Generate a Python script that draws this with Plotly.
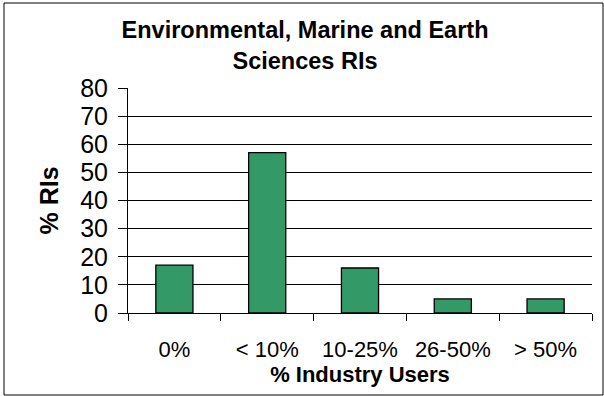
import plotly.graph_objects as go

# data
categories = ["0%", "< 10%", "10-25%", "26-50%", "> 50%"]
pct_ris = [17, 57, 16, 5, 5]
y_ticks = [0, 10, 20, 30, 40, 50, 60, 70, 80]

W, H = 604, 396
L, R, T, B = 128, 12, 88, 83   # plot area margins in px
pw, ph = W - L - R, H - T - B

font = "Liberation Sans, Arial, sans-serif"

fig = go.Figure()
fig.add_trace(go.Bar(
    x=categories, y=pct_ris,
    marker=dict(color="#339966", line=dict(color="black", width=1.3)),
    hoverinfo="x+y",
))

fig.update_layout(
    width=W, height=H,
    margin=dict(l=L, r=R, t=T, b=B, autoexpand=False),
    paper_bgcolor="white", plot_bgcolor="white",
    font=dict(family=font, color="black"),
    bargap=0.6, showlegend=False,
    title=dict(
        text="<b>Environmental, Marine and Earth<br>Sciences RIs</b>",
        font=dict(size=23.5), x=0.505, xanchor="center",
        y=1 - 38 / H, yanchor="middle", yref="container",
    ),
)

fig.update_yaxes(
    range=[0, 80], tickvals=y_ticks, tickfont=dict(size=25),
    showgrid=True, gridcolor="black", gridwidth=1,
    showline=True, linecolor="black", linewidth=1,
    ticks="outside", ticklen=9, tickcolor="black",
    ticklabelstandoff=5, zeroline=False,
    title=dict(text="<b>% RIs</b>", font=dict(size=25), standoff=14),
    automargin=False,
)
fig.update_xaxes(
    tickfont=dict(size=22), tickson="boundaries",
    ticks="outside", ticklen=7, tickcolor="black",
    showline=True, linecolor="black", linewidth=1,
    showgrid=False, ticklabelstandoff=17,
    title=dict(text="<b>% Industry Users</b>", font=dict(size=22), standoff=2),
    automargin=False,
)

# chart border around the whole figure
fig.add_shape(
    type="rect", xref="paper", yref="paper",
    x0=(4 - L) / pw, x1=(603 - L) / pw,
    y0=(H - B - 395) / ph, y1=(H - B - 3) / ph,
    line=dict(color="black", width=1), layer="below",
)

fig.write_html("out.html", config={"displayModeBar": False},
               post_script="document.body.style.margin='0';")
